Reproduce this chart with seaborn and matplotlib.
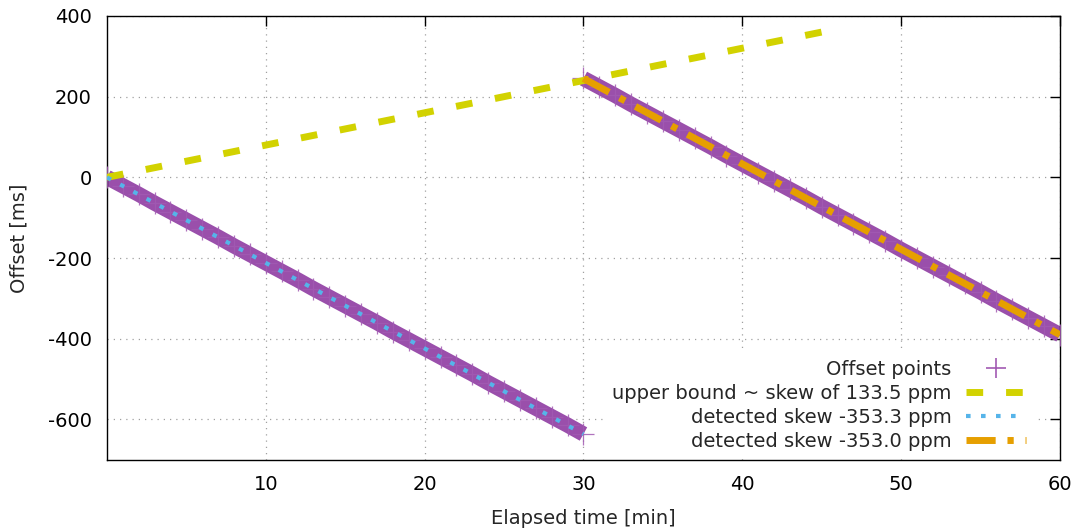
import pandas as pd
import seaborn as sns
import matplotlib.pyplot as plt
from matplotlib.lines import Line2D

# offset samples (minutes, ms)
t_first = list(range(0, 31))
off_first = [0, -21, -42, -64, -85, -106, -127, -148, -170, -191, -212, -233, -254, -276,
             -297, -318, -339, -360, -382, -403, -424, -445, -466, -487, -509, -530, -551,
             -572, -593, -614, -636]
t_second = list(range(30, 61))
off_second = [245, 224, 203, 181, 160, 139, 118, 97, 76, 54, 33, 12, -9, -30, -51, -73,
              -94, -115, -136, -157, -179, -200, -221, -242, -263, -284, -306, -327, -348,
              -369, -390]

# fitted lines (end points)
bound_t = [0, 45]
bound_off = [0, 360]
fit1_t = [0, 30]
fit1_off = [0, -636]
fit2_t = [30, 60]
fit2_off = [245, -390]

lbl_points = "Offset points"
lbl_bound = "upper bound ~ skew of 133.5 ppm"
lbl_fit1 = "detected skew -353.3 ppm"
lbl_fit2 = "detected skew -353.0 ppm"

c_points = "#9a4fab"
c_points_edge = "#a25ab3"
c_bound = "#d2d200"
c_fit1 = "#56b4e9"
c_fit2 = "#e69f00"

sns.set_theme(style="white")
plt.rcParams["font.family"] = ["DejaVu Sans"]
plt.rcParams["font.size"] = 14
plt.rcParams["axes.unicode_minus"] = False
fs = 14

fig, ax = plt.subplots(figsize=(10.75, 5.31), dpi=100)
fig.subplots_adjust(left=0.0995, right=0.986, top=0.970, bottom=0.134)

pts = pd.DataFrame({"t": t_first + t_second, "off": off_first + off_second,
                    "seg": [1] * len(t_first) + [2] * len(t_second)})

# dense band of offset points
for seg, grp in pts.groupby("seg"):
    sns.lineplot(data=grp, x="t", y="off", ax=ax, color=c_points, lw=11,
                 sort=False, errorbar=None, legend=False, zorder=2,
                 solid_capstyle="butt")
sns.scatterplot(data=pts, x="t", y="off", ax=ax, color=c_points_edge, marker="+",
                s=230, linewidth=0.9, alpha=0.85, legend=False, zorder=3)

sns.lineplot(x=bound_t, y=bound_off, ax=ax, color=c_bound, lw=5,
             linestyle=(0, (2.4, 3.3)), errorbar=None, zorder=4)
sns.lineplot(x=fit1_t, y=fit1_off, ax=ax, color=c_fit1, lw=3,
             linestyle=(0, (1.1, 2.5)), errorbar=None, zorder=4)
sns.lineplot(x=fit2_t, y=fit2_off, ax=ax, color=c_fit2, lw=5,
             linestyle=(0, (4.2, 1.7, 0.9, 1.7)), errorbar=None, zorder=4)

ax.set_xlim(0, 60)
ax.set_ylim(-700, 400)
ax.set_xticks([10, 20, 30, 40, 50, 60])
ax.set_yticks([-600, -400, -200, 0, 200, 400])
ax.set_xlabel("Elapsed time [min]", fontsize=fs, labelpad=11)
ax.set_ylabel("Offset [ms]", fontsize=fs, labelpad=14)

ax.grid(True, color="#a0a0a0", lw=0.9, linestyle=(0, (1, 4)))
ax.set_axisbelow(True)
ax.tick_params(direction="in", length=7, width=1, top=True, right=True,
               labelsize=fs, colors="black", pad=11)
ax.tick_params(axis="y", pad=11)
for sp in ax.spines.values():
    sp.set_color("black")
    sp.set_linewidth(1)

handles = [
    Line2D([], [], color=c_points_edge, marker="+", markersize=14, markeredgewidth=1.2, linestyle="none"),
    Line2D([], [], color=c_bound, lw=5, linestyle=(0, (2.4, 3.3))),
    Line2D([], [], color=c_fit1, lw=3, linestyle=(0, (1.1, 2.5))),
    Line2D([], [], color=c_fit2, lw=5, linestyle=(0, (4.2, 1.7, 0.9, 1.7))),
]
leg = ax.legend(handles, [lbl_points, lbl_bound, lbl_fit1, lbl_fit2],
                loc="lower right", bbox_to_anchor=(0.983, -0.019), markerfirst=False,
                frameon=True, fancybox=False, edgecolor="none", facecolor="white",
                framealpha=1, handlelength=3.1, handletextpad=0.75, labelspacing=0.26,
                borderpad=0.4, fontsize=fs)
leg.set_zorder(5)

fig.savefig("out.png", dpi=100)
